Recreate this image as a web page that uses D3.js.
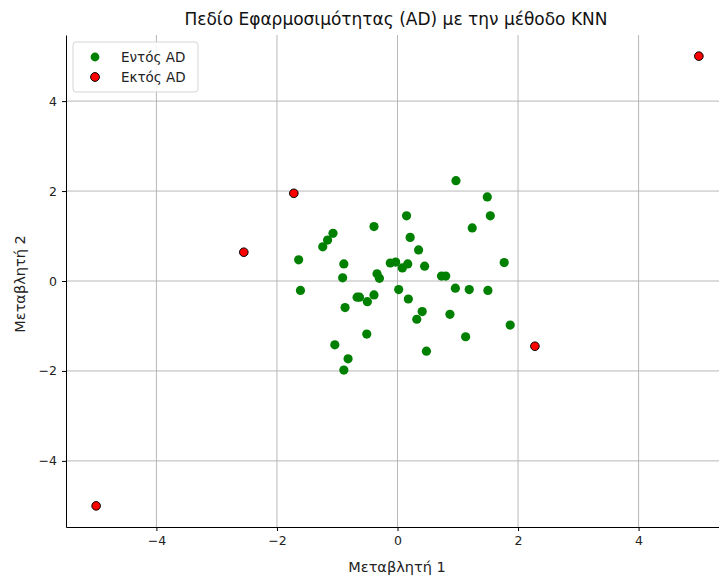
<!DOCTYPE html>
<html>
<head>
<meta charset="utf-8">
<script src="https://cdn.jsdelivr.net/npm/d3@7"></script>
<style>
  body { margin: 0; background: #fff; }
  text { font-family: "DejaVu Sans", sans-serif; }
</style>
</head>
<body>
<div id="chart"></div>
<script>
// points inside the applicability domain
var insideX = [-0.39, -1.07, -1.16, -1.24, -1.64, -0.89, -0.91, -0.34, -0.30, -1.61,
               -0.67, -0.63, -0.50, -0.39, -0.87, -0.51, -1.04, -0.82, -0.89,
               -0.12, -0.03, 0.08, 0.17, 0.02, 0.18,
               0.15, 0.21, 0.35, 0.45, 0.73, 0.80, 0.97, 1.49, 1.54, 1.24,
               1.77, 0.96, 1.19, 1.50, 0.41, 0.32, 0.87, 1.87, 1.13, 0.48];
var insideY = [1.21, 1.06, 0.91, 0.76, 0.47, 0.38, 0.07, 0.16, 0.06, -0.21,
               -0.36, -0.36, -0.46, -0.31, -0.59, -1.18, -1.42, -1.73, -1.98,
               0.40, 0.42, 0.29, 0.38, -0.19, -0.40,
               1.45, 0.97, 0.69, 0.33, 0.11, 0.11, 2.23, 1.87, 1.45, 1.18,
               0.41, -0.16, -0.19, -0.21, -0.68, -0.85, -0.74, -0.98, -1.24, -1.56];
// points outside
var outsideX = [5, -5, -2.55, -1.72, 2.28];
var outsideY = [5, -5, 0.64, 1.95, -1.45];

var xTicks = [-4, -2, 0, 2, 4];
var yTicks = [-4, -2, 0, 2, 4];

var title = "Πεδίο Εφαρμοσιμότητας (AD) με την μέθοδο KNN";
var xLabel = "Μεταβλητή 1";
var yLabel = "Μεταβλητή 2";
var legendLabels = ["Εντός AD", "Εκτός AD"];

var W = 719, H = 576;
var margin = {top: 35, right: -10, bottom: 49, left: 66};
var width = W - margin.left - margin.right,
    height = H - margin.top - margin.bottom;

var svg = d3.select("#chart").append("svg")
  .attr("width", W).attr("height", H);

var g = svg.append("g")
  .attr("transform", "translate(" + margin.left + "," + margin.top + ")");

var x = d3.scaleLinear().domain([-5.5, 5.5]).range([0, width]);
var y = d3.scaleLinear().domain([-5.47, 5.47]).range([height, 0]);

// grid
g.append("g").selectAll("line").data(xTicks).enter().append("line")
  .attr("x1", d => x(d)).attr("x2", d => x(d))
  .attr("y1", 0).attr("y2", height)
  .style("stroke", "#b0b0b0").style("stroke-width", 0.9);
g.append("g").selectAll("line").data(yTicks).enter().append("line")
  .attr("y1", d => y(d)).attr("y2", d => y(d))
  .attr("x1", 0).attr("x2", width)
  .style("stroke", "#b0b0b0").style("stroke-width", 0.9);

// axes
var fmt = d => d < 0 ? "\u2212" + Math.abs(d) : "" + d;
var xAxis = g.append("g")
  .attr("transform", "translate(0," + height + ")")
  .call(d3.axisBottom(x).tickValues(xTicks).tickFormat(fmt).tickSize(4).tickSizeOuter(0).tickPadding(5));
var yAxis = g.append("g")
  .call(d3.axisLeft(y).tickValues(yTicks).tickFormat(fmt).tickSize(4).tickSizeOuter(0).tickPadding(5));
[xAxis, yAxis].forEach(function(a) {
  a.selectAll("text").style("font-size", "12.5px").style("fill", "#222")
    .style("font-family", "DejaVu Sans, sans-serif");
  a.select(".domain").style("stroke", "#000").style("stroke-width", 1);
  a.selectAll(".tick line").style("stroke", "#000");
});

// points
g.append("g").selectAll("circle").data(insideX).enter().append("circle")
  .attr("cx", d => x(d))
  .attr("cy", (d, i) => y(insideY[i]))
  .attr("r", 4.6)
  .style("fill", "#008000");

g.append("g").selectAll("circle").data(outsideX).enter().append("circle")
  .attr("cx", d => x(d))
  .attr("cy", (d, i) => y(outsideY[i]))
  .attr("r", 4.3)
  .style("fill", "#ff0000")
  .style("stroke", "#000").style("stroke-width", 1);

// title and labels
svg.append("text").attr("x", 396).attr("y", 25)
  .attr("text-anchor", "middle").style("font-size", "17px").style("fill", "#111")
  .text(title);
svg.append("text").attr("x", 397).attr("y", 572)
  .attr("text-anchor", "middle").style("font-size", "14.5px").style("fill", "#222")
  .text(xLabel);
svg.append("text")
  .attr("transform", "translate(24.5,284) rotate(-90)")
  .attr("text-anchor", "middle").style("font-size", "14.5px").style("fill", "#222")
  .text(yLabel);

// legend
var lg = svg.append("g").attr("transform", "translate(73,42)");
lg.append("rect").attr("width", 125).attr("height", 50).attr("rx", 3)
  .style("fill", "#fff").style("fill-opacity", 0.85)
  .style("stroke", "#d5d5d5").style("stroke-width", 1);
var colors = ["#008000", "#ff0000"];
legendLabels.forEach(function(lbl, i) {
  lg.append("circle").attr("cx", 22).attr("cy", 15 + i * 20).attr("r", 4.4)
    .style("fill", colors[i])
    .style("stroke", i === 1 ? "#000" : "none").style("stroke-width", 1);
  lg.append("text").attr("x", 48).attr("y", 20 + i * 20)
    .style("font-size", "13.5px").style("fill", "#222").text(lbl);
});
</script>
</body>
</html>
